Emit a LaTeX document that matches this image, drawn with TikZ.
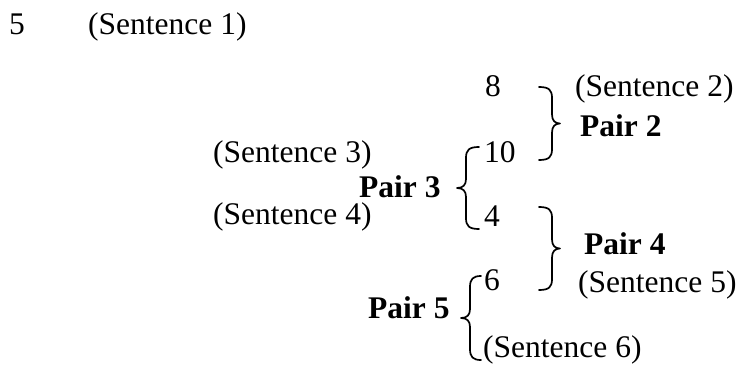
\documentclass[tikz,border=0pt]{standalone}
\usepackage{fontspec}
\setmainfont{Liberation Serif}
% curly brace opening to the right: spine x, top y, bottom y, hook length, tip length
\newcommand\drawrightbrace[5]{%
  \draw[bracestroke]
    ({#1-#4},#2) .. controls ({#1-3},#2) and (#1,{#2+3}) .. (#1,{#2+11})
    -- (#1,{(#2+#3)/2-9})
    .. controls (#1,{(#2+#3)/2-3}) and ({#1+3},{(#2+#3)/2}) .. ({#1+#5},{(#2+#3)/2})
    .. controls ({#1+3},{(#2+#3)/2}) and (#1,{(#2+#3)/2+3}) .. (#1,{(#2+#3)/2+9})
    -- (#1,{#3-11})
    .. controls (#1,{#3-3}) and ({#1-3},#3) .. ({#1-#4},#3);}
% curly brace opening to the left
\newcommand\drawleftbrace[5]{%
  \draw[bracestroke]
    ({#1+#4},#2) .. controls ({#1+3},#2) and (#1,{#2+3}) .. (#1,{#2+11})
    -- (#1,{(#2+#3)/2-9})
    .. controls (#1,{(#2+#3)/2-3}) and ({#1-3},{(#2+#3)/2}) .. ({#1-#5},{(#2+#3)/2})
    .. controls ({#1-3},{(#2+#3)/2}) and (#1,{(#2+#3)/2+3}) .. (#1,{(#2+#3)/2+9})
    -- (#1,{#3-11})
    .. controls (#1,{#3-3}) and ({#1+3},#3) .. ({#1+#4},#3);}
\tikzset{
  label/.style={anchor=base west, inner sep=0pt, font=\fontsize{31.5}{31.5}\selectfont, text=black},
  pairlabel/.style={label, font=\fontsize{31.5}{31.5}\selectfont\bfseries},
  bracestroke/.style={line width=1.7pt, black, line cap=round, line join=round}
}
\begin{document}
\begin{tikzpicture}[x=1pt, y=-1pt]
  \useasboundingbox (0,0) rectangle (744,372);

  % first sentence
  \node[label] (n5) at (9,34) {5};
  \node[label] (s1) at (88,34) {(Sentence 1)};

  % numbers column
  \node[label] (n8)  at (485,96)  {8};
  \node[label] (n10) at (484,162) {10};
  \node[label] (n4)  at (484,226) {4};
  \node[label] (n6)  at (484,290) {6};

  % sentence labels
  \node[label] (s2) at (575,96)  {(Sentence 2)};
  \node[label] (s3) at (213,162) {(Sentence 3)};
  \node[label] (s4) at (213,224) {(Sentence 4)};
  \node[label] (s5) at (578,292) {(Sentence 5)};
  \node[label] (s6) at (483,357) {(Sentence 6)};

  % pair labels
  \node[pairlabel] (p2) at (580,136) {Pair 2};
  \node[pairlabel] (p3) at (359,197) {Pair 3};
  \node[pairlabel] (p4) at (584,254) {Pair 4};
  \node[pairlabel] (p5) at (368,318) {Pair 5};

  % braces grouping the pairs
  \drawrightbrace{552}{87}{160}{13}{8}
  \drawleftbrace{466}{147}{229}{13}{9}
  \drawrightbrace{552}{207}{290}{13}{8}
  \drawleftbrace{470}{276}{360}{11}{9}
\end{tikzpicture}
\end{document}
